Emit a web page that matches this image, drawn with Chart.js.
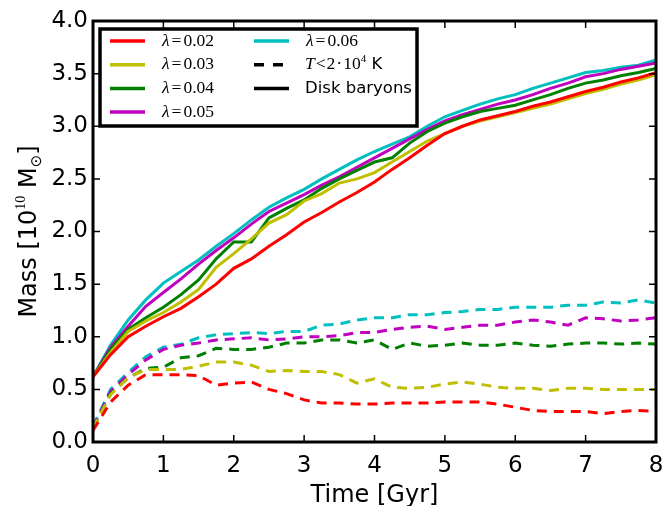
<!DOCTYPE html>
<html>
<head>
<meta charset="utf-8">
<script src="https://cdn.jsdelivr.net/npm/chart.js@4/dist/chart.umd.min.js"></script>
<style>
  html, body { margin: 0; padding: 0; background: #fff; }
  #wrap { width: 664px; height: 506px; }
</style>
</head>
<body>
<div id="wrap"><canvas id="massChart" width="664" height="506"></canvas></div>
<script>
// time axis [Gyr]
const times = [0, 0.25, 0.5, 0.75, 1, 1.25, 1.5, 1.75, 2, 2.25, 2.5, 2.75, 3, 3.25, 3.5, 3.75,
  4, 4.25, 4.5, 4.75, 5, 5.25, 5.5, 5.75, 6, 6.25, 6.5, 6.75, 7, 7.25, 7.5, 7.75, 8];

const lambdas = ['0.02', '0.03', '0.04', '0.05', '0.06'];
const colors = ['#ff0000', '#bfbf00', '#008000', '#bf00bf', '#00bfbf'];

// disk baryons (solid), 10^10 Msun
const disk002 = [0.62, 0.83, 1.00, 1.10, 1.19, 1.27, 1.38, 1.50, 1.65, 1.74, 1.86, 1.97, 2.09, 2.18, 2.28, 2.37,
  2.47, 2.59, 2.70, 2.82, 2.93, 3.00, 3.06, 3.10, 3.14, 3.19, 3.23, 3.28, 3.33, 3.37, 3.42, 3.46, 3.51];
const disk003 = [0.62, 0.85, 1.05, 1.15, 1.23, 1.33, 1.45, 1.66, 1.79, 1.93, 2.08, 2.16, 2.29, 2.36, 2.46, 2.50,
  2.56, 2.66, 2.76, 2.86, 2.93, 3.00, 3.05, 3.09, 3.13, 3.17, 3.21, 3.26, 3.31, 3.35, 3.40, 3.44, 3.49];
const disk004 = [0.62, 0.88, 1.07, 1.18, 1.28, 1.40, 1.54, 1.74, 1.90, 1.90, 2.13, 2.22, 2.30, 2.41, 2.50, 2.58,
  2.66, 2.70, 2.84, 2.95, 3.03, 3.09, 3.14, 3.17, 3.20, 3.25, 3.30, 3.36, 3.41, 3.44, 3.48, 3.51, 3.55];
const disk005 = [0.62, 0.90, 1.10, 1.29, 1.42, 1.55, 1.69, 1.82, 1.94, 2.07, 2.19, 2.27, 2.35, 2.44, 2.52, 2.61,
  2.70, 2.79, 2.88, 2.97, 3.05, 3.11, 3.16, 3.21, 3.25, 3.30, 3.36, 3.41, 3.47, 3.50, 3.54, 3.57, 3.60];
const disk006 = [0.62, 0.92, 1.16, 1.35, 1.51, 1.62, 1.73, 1.86, 1.98, 2.11, 2.23, 2.32, 2.40, 2.50, 2.59, 2.68,
  2.76, 2.83, 2.90, 3.00, 3.09, 3.15, 3.21, 3.26, 3.30, 3.36, 3.41, 3.46, 3.51, 3.53, 3.56, 3.58, 3.63];

// cold gas T < 2e4 K (dashed)
const cold002 = [0.11, 0.38, 0.54, 0.64, 0.64, 0.64, 0.63, 0.54, 0.56, 0.57, 0.50, 0.46, 0.40, 0.37, 0.37, 0.36,
  0.36, 0.37, 0.37, 0.37, 0.38, 0.38, 0.38, 0.36, 0.33, 0.30, 0.29, 0.29, 0.29, 0.27, 0.29, 0.30, 0.29];
const cold003 = [0.13, 0.45, 0.61, 0.69, 0.69, 0.69, 0.72, 0.76, 0.76, 0.73, 0.67, 0.68, 0.67, 0.67, 0.64, 0.56,
  0.60, 0.52, 0.51, 0.52, 0.55, 0.57, 0.55, 0.52, 0.51, 0.51, 0.49, 0.51, 0.51, 0.50, 0.50, 0.50, 0.50];
const cold004 = [0.13, 0.46, 0.61, 0.70, 0.71, 0.80, 0.82, 0.89, 0.88, 0.88, 0.90, 0.94, 0.94, 0.97, 0.97, 0.94,
  0.97, 0.88, 0.94, 0.91, 0.92, 0.94, 0.92, 0.92, 0.94, 0.92, 0.91, 0.93, 0.94, 0.94, 0.93, 0.94, 0.93];
const cold005 = [0.14, 0.48, 0.64, 0.78, 0.88, 0.92, 0.94, 0.97, 0.98, 0.99, 0.97, 0.98, 1.00, 1.00, 1.01, 1.04,
  1.04, 1.07, 1.09, 1.10, 1.07, 1.09, 1.11, 1.11, 1.14, 1.16, 1.14, 1.11, 1.18, 1.17, 1.15, 1.16, 1.18];
const cold006 = [0.15, 0.50, 0.66, 0.81, 0.90, 0.93, 0.99, 1.02, 1.03, 1.04, 1.03, 1.05, 1.05, 1.11, 1.12, 1.16,
  1.18, 1.18, 1.21, 1.21, 1.23, 1.24, 1.26, 1.26, 1.28, 1.28, 1.28, 1.30, 1.30, 1.33, 1.32, 1.35, 1.32];

const diskSeries = [disk002, disk003, disk004, disk005, disk006];
const coldSeries = [cold002, cold003, cold004, cold005, cold006];

const SANS = '"DejaVu Sans", sans-serif';
const SERIF = '"Liberation Serif", serif';

function toPoints(values) {
  return values.map((v, i) => ({ x: times[i], y: v }));
}

const datasets = [];
lambdas.forEach((lam, i) => {
  datasets.push({
    label: 'λ=' + lam,
    data: toPoints(diskSeries[i]),
    borderColor: colors[i],
    borderWidth: 3,
    pointRadius: 0,
    tension: 0
  });
  datasets.push({
    label: 'cold ' + lam,
    data: toPoints(coldSeries[i]),
    borderColor: colors[i],
    borderWidth: 3,
    borderDash: [10, 7],
    pointRadius: 0,
    tension: 0
  });
});

// draw a run of text pieces starting at x, baseline y
function drawPieces(ctx, pieces, x, y) {
  pieces.forEach(p => {
    ctx.font = p.font;
    ctx.fillText(p.text, x + (p.pad || 0), y + (p.dy || 0));
    x += ctx.measureText(p.text).width + 2 * (p.pad || 0);
  });
  return x;
}

function piecesWidth(ctx, pieces) {
  return pieces.reduce((w, p) => {
    ctx.font = p.font;
    return w + ctx.measureText(p.text).width + 2 * (p.pad || 0);
  }, 0);
}

const framePlugin = {
  id: 'frame',
  afterDatasetsDraw(chart) {
    const { ctx, chartArea: a, scales: { x, y } } = chart;
    ctx.save();
    ctx.strokeStyle = '#000';
    ctx.lineWidth = 1.5;
    ctx.beginPath();
    x.ticks.forEach(t => {
      const px = x.getPixelForValue(t.value);
      ctx.moveTo(px, a.bottom); ctx.lineTo(px, a.bottom - 7);
      ctx.moveTo(px, a.top); ctx.lineTo(px, a.top + 7);
    });
    y.ticks.forEach(t => {
      const py = y.getPixelForValue(t.value);
      ctx.moveTo(a.left, py); ctx.lineTo(a.left + 7, py);
      ctx.moveTo(a.right, py); ctx.lineTo(a.right - 7, py);
    });
    ctx.stroke();
    ctx.lineWidth = 3;
    ctx.strokeRect(a.left, a.top, a.right - a.left, a.bottom - a.top);
    ctx.restore();
  }
};

const titlePlugin = {
  id: 'axisTitles',
  afterDraw(chart) {
    const { ctx, chartArea: a } = chart;
    ctx.save();
    ctx.fillStyle = '#000';
    ctx.textBaseline = 'alphabetic';
    ctx.textAlign = 'left';

    ctx.font = '24px ' + SANS;
    const xt = 'Time [Gyr]';
    ctx.fillText(xt, (a.left + a.right) / 2 - ctx.measureText(xt).width / 2, 502);

    const ypieces = [
      { text: 'Mass [10', font: '24px ' + SANS },
      { text: '10', font: '14px ' + SERIF, dy: -11 },
      { text: ' M', font: '24px ' + SANS },
      { text: '⊙', font: '15px ' + SANS, dy: 5 },
      { text: ']', font: '24px ' + SANS }
    ];
    ctx.translate(36, (a.top + a.bottom) / 2);
    ctx.rotate(-Math.PI / 2);
    drawPieces(ctx, ypieces, -piecesWidth(ctx, ypieces) / 2, 0);
    ctx.restore();
  }
};

const legendPlugin = {
  id: 'boxLegend',
  afterDraw(chart) {
    const { ctx } = chart;
    const box = { left: 100, top: 29, width: 317, height: 97 };
    const rowY = i => box.top + 12 + i * 23.7;
    ctx.save();
    ctx.fillStyle = '#fff';
    ctx.fillRect(box.left, box.top, box.width, box.height);
    ctx.lineWidth = 3.5;
    ctx.strokeStyle = '#000';
    ctx.strokeRect(box.left, box.top, box.width, box.height);

    const sample = (x0, y0, color, dash) => {
      ctx.beginPath();
      ctx.setLineDash(dash);
      ctx.strokeStyle = color;
      ctx.lineWidth = 3.5;
      ctx.moveTo(x0, y0);
      ctx.lineTo(x0 + 35, y0);
      ctx.stroke();
      ctx.setLineDash([]);
    };

    ctx.textBaseline = 'middle';
    ctx.fillStyle = '#000';
    const serif = '17.5px ' + SERIF;
    const serifIt = 'italic 17.5px ' + SERIF;

    const entries = chart.data.datasets.filter(d => !d.borderDash);
    entries.forEach((d, i) => {
      const col = i < 4 ? 0 : 1;
      const row = i < 4 ? i : i - 4;
      const x0 = col === 0 ? 110 : 254;
      const y0 = rowY(row);
      sample(x0, y0, d.borderColor, []);
      const lam = d.label.split('=')[1];
      drawPieces(ctx, [
        { text: 'λ', font: serifIt },
        { text: '=', font: serif, pad: 2 },
        { text: lam, font: serif }
      ], x0 + 52, y0);
    });

    sample(254, rowY(1), '#000', [10, 9]);
    drawPieces(ctx, [
      { text: 'T', font: serifIt },
      { text: '<', font: serif, pad: 1 },
      { text: '2', font: serif },
      { text: '·', font: serif, pad: 1 },
      { text: '10', font: serif },
      { text: '4', font: '11px ' + SERIF, dy: -6 },
      { text: ' K', font: '16.5px ' + SANS }
    ], 305, rowY(1));

    sample(254, rowY(2), '#000', []);
    ctx.font = '16.5px ' + SANS;
    ctx.fillText('Disk baryons', 305, rowY(2));
    ctx.restore();
  }
};

new Chart(document.getElementById('massChart'), {
  type: 'line',
  data: { datasets },
  plugins: [framePlugin, titlePlugin, legendPlugin],
  options: {
    responsive: false,
    animation: false,
    devicePixelRatio: 1,
    layout: { padding: { top: 21, right: 8, left: 0, bottom: 0 } },
    plugins: { legend: { display: false }, tooltip: { enabled: false } },
    scales: {
      x: {
        type: 'linear',
        min: 0,
        max: 8,
        grid: { display: false, drawTicks: false },
        border: { display: false },
        ticks: { stepSize: 1, color: '#000', padding: 10, font: { family: SANS, size: 23 } },
        afterFit: s => {
          s.height = 64;
          s.paddingLeft = 0;
          s.paddingRight = 0;
        }
      },
      y: {
        min: 0,
        max: 4,
        grid: { display: false, drawTicks: false },
        border: { display: false },
        ticks: {
          stepSize: 0.5,
          color: '#000',
          padding: 5,
          font: { family: SANS, size: 23 },
          callback: v => v.toFixed(1)
        },
        afterFit: s => {
          s.width = 93;
          s.paddingTop = 0;
          s.paddingBottom = 0;
        }
      }
    }
  }
});
</script>
</body>
</html>
